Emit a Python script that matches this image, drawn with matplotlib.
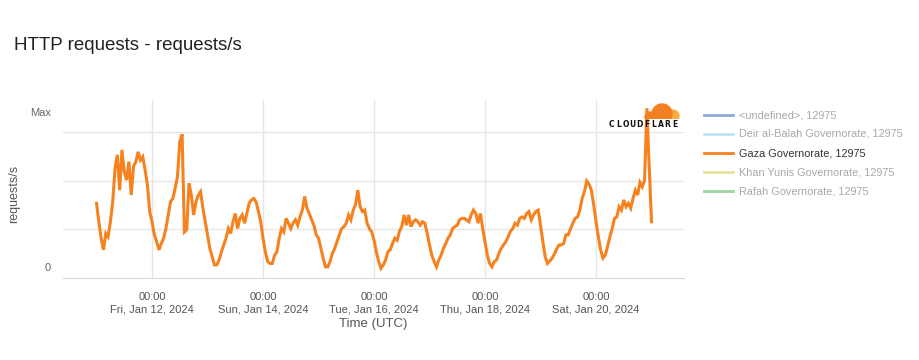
import matplotlib
matplotlib.use("Agg")
import matplotlib.pyplot as plt
from matplotlib.lines import Line2D
from matplotlib.patches import Circle
import pandas as pd

plt.rcParams['font.family'] = ['Liberation Sans', 'DejaVu Sans']

# hourly requests/s (relative scale), Jan 11 00:00 -> Jan 21 00:00 UTC
gaza = [
    1.54, 1.16, 0.82, 0.58, 0.92, 0.85, 1.16, 1.57, 2.26, 2.54, 1.81, 2.64,
    2.19, 2.02, 2.40, 1.71, 2.30, 2.40, 2.60, 2.43, 2.50, 2.23, 1.92, 1.37,
    1.16, 0.89, 0.75, 0.58, 0.71, 0.82, 1.02, 1.30, 1.57, 1.64, 1.85, 2.09,
    2.81, 2.96, 0.95, 1.00, 1.95, 1.71, 1.30, 1.57, 1.71, 1.78, 1.44, 1.16,
    0.89, 0.61, 0.44, 0.27, 0.27, 0.37, 0.54, 0.68, 0.82, 1.02, 0.92, 1.16,
    1.33, 1.02, 1.23, 1.30, 1.13, 1.33, 1.54, 1.61, 1.64, 1.57, 1.37, 1.16,
    0.82, 0.54, 0.34, 0.30, 0.30, 0.47, 0.54, 0.82, 1.02, 0.95, 1.23, 1.13,
    1.02, 1.13, 1.20, 1.09, 1.26, 1.40, 1.68, 1.44, 1.33, 1.20, 1.09, 0.89,
    0.82, 0.61, 0.41, 0.23, 0.23, 0.34, 0.51, 0.61, 0.75, 0.89, 1.02, 1.06,
    1.13, 1.30, 1.20, 1.40, 1.51, 1.81, 1.47, 1.37, 1.40, 1.13, 1.02, 0.95,
    0.78, 0.54, 0.34, 0.20, 0.27, 0.37, 0.54, 0.58, 0.71, 0.82, 0.78, 0.96,
    1.06, 1.30, 1.09, 1.30, 1.06, 1.16, 1.20, 1.16, 1.09, 1.16, 1.13, 0.92,
    0.68, 0.47, 0.34, 0.23, 0.37, 0.47, 0.61, 0.71, 0.82, 0.89, 1.02, 1.06,
    1.09, 1.20, 1.23, 1.23, 1.20, 1.16, 1.30, 1.40, 1.33, 1.13, 1.33, 1.02,
    0.75, 0.47, 0.30, 0.23, 0.34, 0.37, 0.51, 0.61, 0.68, 0.75, 0.85, 0.96,
    1.02, 1.13, 1.09, 1.23, 1.26, 1.23, 1.33, 1.37, 1.20, 1.30, 1.37, 1.40,
    1.09, 0.75, 0.44, 0.30, 0.35, 0.41, 0.49, 0.60, 0.68, 0.68, 0.71, 0.89,
    0.89, 1.02, 1.13, 1.23, 1.26, 1.40, 1.64, 1.78, 2.00, 1.93, 1.81, 1.51,
    1.16, 0.85, 0.58, 0.41, 0.47, 0.65, 0.85, 1.02, 1.23, 1.26, 1.47, 1.40,
    1.61, 1.47, 1.54, 1.44, 1.64, 1.81, 1.71, 1.97, 1.88, 2.02, 3.50, 2.30,
    1.16,
]
times = pd.date_range("2024-01-11 00:00", periods=len(gaza), freq="h")

tick_days = ["2024-01-12", "2024-01-14", "2024-01-16", "2024-01-18", "2024-01-20"]
tick_labels = ["Fri, Jan 12, 2024", "Sun, Jan 14, 2024", "Tue, Jan 16, 2024",
               "Thu, Jan 18, 2024", "Sat, Jan 20, 2024"]

legend_names = ["<undefined>, 12975", "Deir al-Balah Governorate, 12975",
                "Gaza Governorate, 12975", "Khan Yunis Governorate, 12975",
                "Rafah Governorate, 12975"]
legend_colors = ["#8eaadb", "#bfe4f6", "#f6821f", "#e3e29c", "#9dd69c"]
legend_text_colors = ["#a8a8a8", "#a8a8a8", "#333333", "#a8a8a8", "#a8a8a8"]

W, H = 920, 360
fig = plt.figure(figsize=(9.2, 3.6), dpi=100)
ax = fig.add_axes([63 / W, 1 - 278 / H, 621 / W, 178 / H])

ax.plot(times, gaza, color="#f6821f", lw=2.2, solid_joinstyle="miter")

ax.set_xlim(pd.Timestamp("2024-01-10 09:30"), pd.Timestamp("2024-01-21 14:03"))
ax.set_ylim(0, 3.67)
ax.set_yticks([1, 2, 3])
ax.set_yticklabels([])
ax.set_xticks(pd.to_datetime(tick_days))
ax.set_xticklabels(["00:00\n" + t for t in tick_labels], color="#555555",
                   fontsize=8, linespacing=1.3)
ax.tick_params(length=0, pad=10)
ax.grid(True, color="#e6e6e6", lw=1)
ax.set_axisbelow(True)
for s in ["top", "right", "left"]:
    ax.spines[s].set_visible(False)
ax.spines["bottom"].set_color("#d9d9d9")
ax.set_xlabel("Time (UTC)", fontsize=9.5, color="#555555", labelpad=3)

fig.text(14 / W, 1 - 194 / H, "requests/s", rotation=90, ha="center", va="center",
         fontsize=9, color="#555555")
fig.text(51 / W, 1 - 113 / H, "Max", ha="right", va="center", fontsize=8, color="#666666")
fig.text(51 / W, 1 - 268 / H, "0", ha="right", va="center", fontsize=8, color="#666666")
fig.text(14 / W, 1 - 46 / H, "HTTP requests - requests/s", ha="left", va="center",
         fontsize=13.5, color="#222222")

# legend
for i, (name, c, tc) in enumerate(zip(legend_names, legend_colors, legend_text_colors)):
    y = 1 - (115 + 19 * i) / H
    fig.add_artist(Line2D([704 / W, 733 / W], [y, y], color=c, lw=2,
                          transform=fig.transFigure))
    fig.text(739 / W, y, name, ha="left", va="center", fontsize=7.8, color=tc)

# cloudflare logo
lax = fig.add_axes([641 / W, 1 - 119 / H, 39 / W, 17 / H])
lax.set_xlim(0, 39)
lax.set_ylim(0, 17)
lax.axis("off")
lax.add_patch(Circle((32, 3), 6, color="#fbad41"))
lax.add_patch(Circle((21, 5), 10, color="#f38020"))
lax.add_patch(Circle((9, 2), 5, color="#f38020"))
for i, ch in enumerate("CLOUDFLARE"):
    fig.text((611.5 + 7 * i) / W, 1 - 124.5 / H, ch, ha="center", va="center",
             fontsize=5.5, fontweight="heavy", color="#111111", family="DejaVu Sans")

fig.savefig("out.png", dpi=100)
